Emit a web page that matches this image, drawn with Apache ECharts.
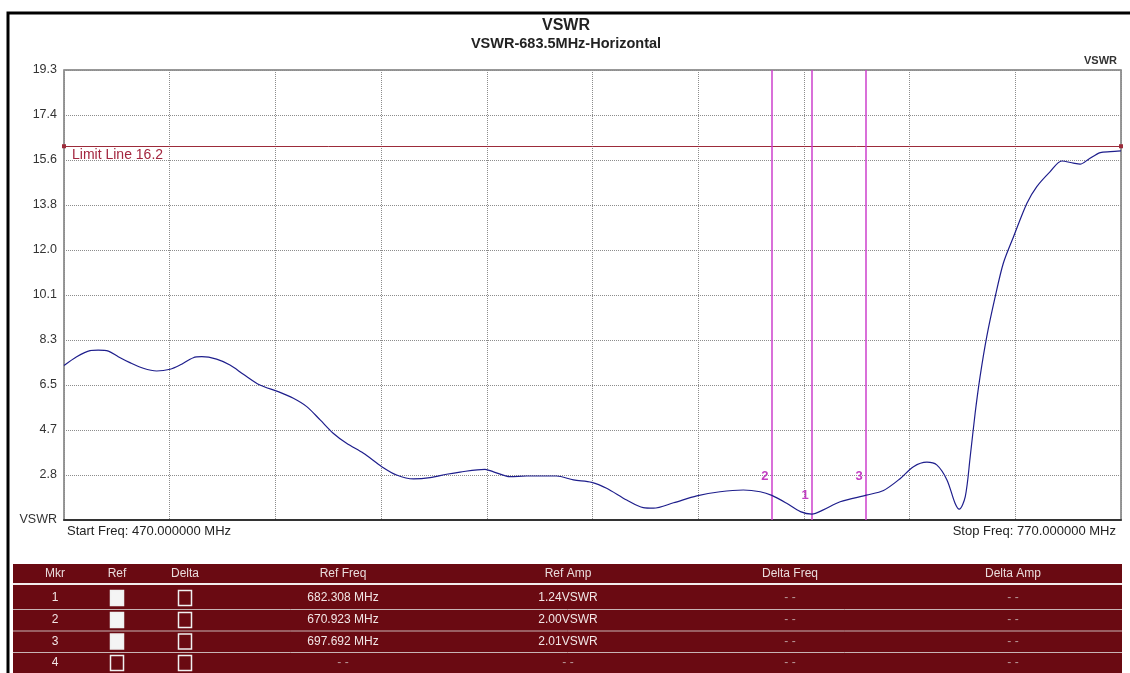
<!DOCTYPE html>
<html>
<head>
<meta charset="utf-8">
<script src="https://cdn.jsdelivr.net/npm/echarts@6/dist/echarts.min.js"></script>
<style>
html,body{margin:0;padding:0;background:#fff;}
#chart{width:1130px;height:673px;}
</style>
</head>
<body>
<div id="chart"></div>
<script>
// ---- data ----
var freqMHz = [470.0,473.6,477.4,479.7,482.6,485.4,488.7,492.5,496.3,500.1,502.9,506.7,509.1,513.3,517.1,520.9,525.6,530.8,535.1,538.9,542.7,546.4,550.2,555.0,560.2,564.4,569.2,573.9,578.6,582.4,589.5,591.9,596.6,601.3,609.8,614.6,619.8,624.0,629.7,634.4,637.3,643.0,649.6,656.2,662.8,667.6,670.9,675.1,679.0,682.3,685.5,690.3,697.7,702.6,707.3,711.1,714.9,717.7,720.6,722.9,724.1,725.8,727.2,728.6,730.0,731.9,734.3,736.6,739.5,743.3,746.1,749.9,753.2,756.5,758.4,760.8,764.1,767.0,770.0];
var vswr = [7.28,7.64,7.89,7.91,7.87,7.64,7.40,7.17,7.06,7.13,7.30,7.60,7.64,7.54,7.30,6.93,6.49,6.22,5.95,5.61,5.07,4.53,4.12,3.71,3.17,2.83,2.67,2.72,2.86,2.95,3.06,2.96,2.76,2.79,2.79,2.63,2.53,2.29,1.81,1.50,1.48,1.70,1.98,2.15,2.22,2.15,2.00,1.68,1.34,1.24,1.41,1.74,2.01,2.20,2.68,3.17,3.35,3.24,2.63,1.68,1.44,1.95,3.57,5.34,6.83,8.46,10.08,11.44,12.52,13.88,14.56,15.17,15.60,15.51,15.47,15.67,15.94,15.98,16.01];
var yTickLabels = ['VSWR','2.8','4.7','6.5','8.3','10.1','12.0','13.8','15.6','17.4','19.3'];
var yMin = 1.0, yMax = 19.3, yStep = 1.83;
var startFreq = 470, stopFreq = 770, freqStep = 30;
var limitValue = 16.2;
var markerIds = ['1','2','3'];
var markerFreqs = [682.308, 670.923, 697.692];
var markerAmps = [1.24, 2.00, 2.01];
// table
var tableHeaders = ['Mkr','Ref','Delta','Ref Freq','Ref Amp','Delta Freq','Delta Amp'];
var tableMkr = ['1','2','3','4'];
var tableRefOn = [true,true,true,false];
var tableRefFreq = ['682.308 MHz','670.923 MHz','697.692 MHz','- -'];
var tableRefAmp = ['1.24VSWR','2.00VSWR','2.01VSWR','- -'];
var tableDeltaFreq = ['- -','- -','- -','- -'];
var tableDeltaAmp = ['- -','- -','- -','- -'];

var FONT = '"Liberation Sans", Arial, sans-serif';
var chart = echarts.init(document.getElementById('chart'));

var curveData = freqMHz.map(function(f,i){return [f, vswr[i]];});

// ---- table graphics ----
var colX = [55,117,185,343,568,790,1013];
var tblL = 13, tblR = 1122, tblTop = 564;
var headY = 573.5, rowY = [598,620,641.5,663], sepY = [609.5,631,652.5];
var g = [];
g.push({type:'rect', shape:{x:8,y:13,width:1140,height:700}, style:{fill:'none', stroke:'#000', lineWidth:3}, z:100, silent:true});
g.push({type:'rect', shape:{x:tblL,y:tblTop,width:tblR-tblL,height:120}, style:{fill:'#6a0a12'}, z:10});
g.push({type:'line', shape:{x1:tblL,y1:584,x2:tblR,y2:584}, style:{stroke:'#f2ecec', lineWidth:2}, z:11});
sepY.forEach(function(y){
  g.push({type:'line', shape:{x1:tblL,y1:y,x2:tblR,y2:y}, style:{stroke:'#c8b4b4', lineWidth:1}, z:11});
});
tableHeaders.forEach(function(h,i){
  g.push({type:'text', x:colX[i], y:headY, style:{text:h, fill:'#eadcdc', font:'12px '+FONT, align:'center', verticalAlign:'middle'}, z:12});
});
function cell(txt, x, y){
  var dash = txt === '- -';
  g.push({type:'text', x:x, y:y, style:{text:txt, fill: dash ? '#b99a9a' : '#f2e6e6', font:'12px '+FONT, align:'center', verticalAlign:'middle'}, z:12});
}
function box(x, y, filled){
  g.push({type:'rect', shape:{x:x-6.5, y:y-7.5, width:13, height:15}, style:{fill: filled ? '#f4f4f4' : 'none', stroke:'#f0f0f0', lineWidth:1.5}, z:12});
}
tableMkr.forEach(function(m,r){
  cell(m, colX[0], rowY[r]);
  box(colX[1], rowY[r], tableRefOn[r]);
  box(colX[2], rowY[r], false);
  cell(tableRefFreq[r], colX[3], rowY[r]);
  cell(tableRefAmp[r], colX[4], rowY[r]);
  cell(tableDeltaFreq[r], colX[5], rowY[r]);
  cell(tableDeltaAmp[r], colX[6], rowY[r]);
});
// titles and side texts
g.push({type:'text', x:566, y:26, style:{text:'VSWR', fill:'#222', font:'bold 16px '+FONT, align:'center', verticalAlign:'middle'}});
g.push({type:'text', x:566, y:44, style:{text:'VSWR-683.5MHz-Horizontal', fill:'#222', font:'bold 14.5px '+FONT, align:'center', verticalAlign:'middle'}});
g.push({type:'text', x:1117, y:61, style:{text:'VSWR', fill:'#333', font:'bold 11px '+FONT, align:'right', verticalAlign:'middle'}});
g.push({type:'text', x:67, y:531, style:{text:'Start Freq: ' + startFreq.toFixed(6) + ' MHz', fill:'#222', font:'13px '+FONT, align:'left', verticalAlign:'middle'}});
g.push({type:'text', x:1116, y:531, style:{text:'Stop Freq: ' + stopFreq.toFixed(6) + ' MHz', fill:'#222', font:'13px '+FONT, align:'right', verticalAlign:'middle'}});

var option = {
  animation: false,
  backgroundColor: '#fff',
  grid: {left:64, right:9, top:70, bottom:153, show:true, borderColor:'#777', borderWidth:1.5, backgroundColor:'#fff'},
  xAxis: {
    type:'value', min:startFreq, max:stopFreq, interval:freqStep,
    axisLine:{show:true, lineStyle:{color:'#333', width:2}},
    axisTick:{show:false}, axisLabel:{show:false},
    splitLine:{show:true, lineStyle:{type:'dotted', color:'#8c8c8c', width:1}}
  },
  yAxis: {
    type:'value', min:yMin, max:yMax, interval:yStep,
    axisLine:{show:false}, axisTick:{show:false},
    axisLabel:{margin:7, color:'#333', fontSize:12.5, fontFamily:FONT,
      formatter:function(v){ var i=Math.round((v-yMin)/yStep); return yTickLabels[i] || ''; }},
    splitLine:{show:true, lineStyle:{type:'dotted', color:'#8c8c8c', width:1}}
  },
  series: [
    {
      type:'line', data:curveData, showSymbol:false, smooth:0.3,
      lineStyle:{color:'#1e1e8c', width:1.2}, z:5,
      markLine:{
        silent:true, symbol:['rect','rect'], symbolSize:4,
        lineStyle:{color:'#9c2b3a', type:'solid', width:1},
        label:{show:true, position:'insideStartBottom', formatter:'Limit Line ' + limitValue, color:'#a3263f', fontSize:14, fontFamily:FONT, distance:[8,2]},
        data:[{yAxis:limitValue}]
      }
    },
    {
      type:'line', data:[], z:6,
      markLine:{
        silent:true, symbol:['none','none'],
        lineStyle:{color:'#cc40cc', type:'solid', width:1.5},
        label:{show:false},
        data: markerFreqs.map(function(f){ return {xAxis:f}; })
      },
      markPoint:{
        silent:true, symbol:'circle', symbolSize:0,
        label:{show:true, color:'#c23fc2', fontWeight:'bold', fontSize:13, fontFamily:FONT, offset:[-7,-19]},
        data: markerFreqs.map(function(f,i){ return {coord:[f, markerAmps[i]], value:markerIds[i], label:{formatter:markerIds[i]}}; })
      }
    }
  ],
  graphic: g
};
chart.setOption(option);
</script>
</body>
</html>
